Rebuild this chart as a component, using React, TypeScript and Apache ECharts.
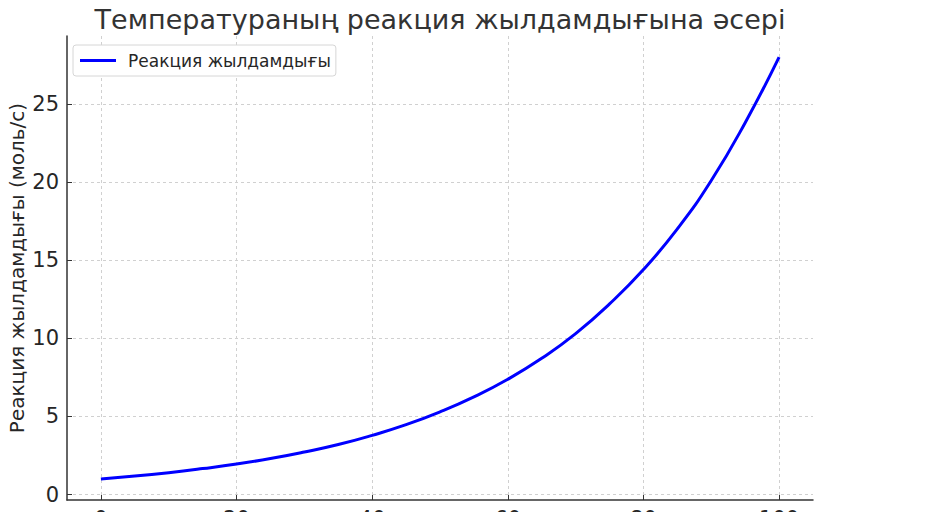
import React, { useEffect, useRef } from "react";
import * as echarts from "echarts";

const temperatures = [0, 5, 10, 15, 20, 25, 30, 35, 40, 45, 50, 55, 60, 65, 70, 75, 80, 85, 90, 95, 100];
const rates = [1.0, 1.18, 1.4, 1.66, 1.95, 2.3, 2.72, 3.2, 3.79, 4.47, 5.29, 6.25, 7.38, 8.72, 10.3, 12.2, 14.4, 17.0, 20.1, 23.8, 28.0];
const xTicks = [0, 20, 40, 60, 80, 100];
const yTicks = [0, 5, 10, 15, 20, 25];

const titleText = "Температураның реакция жылдамдығына әсері";
const seriesName = "Реакция жылдамдығы";
const yName = "Реакция жылдамдығы (моль/с)";

const FONT = "DejaVu Sans";
const TXT = "#262626";

export default function App() {
  const ref = useRef<HTMLDivElement>(null);
  useEffect(() => {
    if (!ref.current) return;
    const chart = echarts.init(ref.current, undefined, { renderer: "svg" });
    const splitLine = { show: true, lineStyle: { color: "#d0d0d0", type: [3, 3], width: 1 } };
    chart.setOption({
      animation: false,
      backgroundColor: "#ffffff",
      textStyle: { fontFamily: FONT },
      graphic: [
        {
          type: "text",
          x: 440,
          y: 19,
          style: {
            text: titleText,
            fontFamily: FONT,
            fontSize: 27,
            fill: "#333333",
            textAlign: "center",
            textVerticalAlign: "middle",
          },
        },
      ],
      legend: {
        left: 73,
        top: 45,
        data: [seriesName],
        icon: "rect",
        itemWidth: 36,
        itemHeight: 3,
        padding: [7, 5, 7, 7],
        borderColor: "#d6d6d6",
        borderWidth: 1,
        borderRadius: 3,
        backgroundColor: "#ffffff",
        textStyle: { fontFamily: FONT, fontSize: 17, color: TXT, padding: [0, 0, 0, 7] },
      },
      grid: { left: 67, right: 139, top: 36, bottom: 40, containLabel: false, outerBoundsMode: "none" },
      xAxis: {
        type: "value",
        min: -5,
        max: 105,
        axisLine: { show: true, onZero: false, lineStyle: { color: "#333333", width: 1.5 } },
        axisTick: { show: true, inside: true, length: 5, customValues: xTicks, lineStyle: { color: "#333333" } },
        axisLabel: { customValues: xTicks, fontFamily: FONT, fontSize: 21, color: TXT, margin: 8 },
        splitLine,
      },
      yAxis: {
        type: "value",
        min: -0.35,
        max: 29.35,
        name: yName,
        nameLocation: "middle",
        nameGap: 40,
        nameMoveOverlap: false,
        nameTextStyle: { fontFamily: FONT, fontSize: 20, color: TXT },
        axisLine: { show: true, onZero: false, lineStyle: { color: "#333333", width: 1.5 } },
        axisTick: { show: true, inside: true, length: 5, customValues: yTicks, lineStyle: { color: "#333333" } },
        axisLabel: { customValues: yTicks, fontFamily: FONT, fontSize: 21, color: TXT, margin: 8 },
        splitLine,
      },
      series: [
        {
          name: seriesName,
          type: "line",
          data: temperatures.map((t, i) => [t, rates[i]]),
          smooth: true,
          showSymbol: false,
          lineStyle: { color: "#0000ff", width: 3 },
          itemStyle: { color: "#0000ff" },
        },
      ],
    });
    return () => chart.dispose();
  }, []);
  return <div ref={ref} style={{ position: "absolute", left: 0, top: 0, width: 952, height: 540 }} />;
}
